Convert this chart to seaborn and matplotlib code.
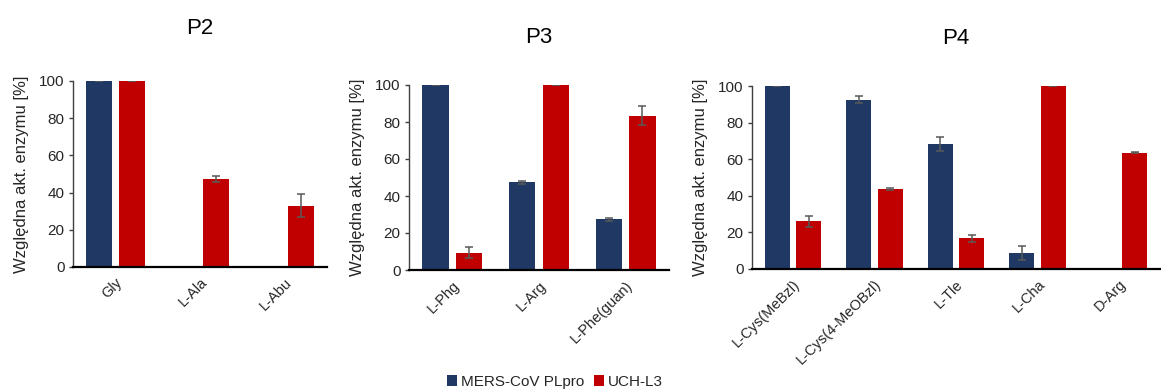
import numpy as np
import pandas as pd
import matplotlib
matplotlib.use("Agg")
import matplotlib.pyplot as plt
from matplotlib.patches import Patch
import seaborn as sns

# ---- data -------------------------------------------------------------
series_names = ["MERS-CoV PLpro", "UCH-L3"]
nan = np.nan

p2_labels = ["Gly", "L-Ala", "L-Abu"]
p2_mers = [100, 0, 0]
p2_mers_err = [0, nan, nan]
p2_uch = [100, 47.2, 33.0]
p2_uch_err = [0, 1.7, 6.0]

p3_labels = ["L-Phg", "L-Arg", "L-Phe(guan)"]
p3_mers = [100, 47.3, 27.3]
p3_mers_err = [0, 0.9, 1.0]
p3_uch = [9.4, 100, 83.4]
p3_uch_err = [3.0, 0, 5.0]

p4_labels = ["L-Cys(MeBzl)", "L-Cys(4-MeOBzl)", "L-Tle", "L-Cha", "D-Arg"]
p4_mers = [100, 92.6, 68.2, 8.9, 0]
p4_mers_err = [0, 1.8, 3.8, 3.8, nan]
p4_uch = [26.2, 43.7, 16.8, 100, 63.6]
p4_uch_err = [3.0, 0.7, 2.0, 0, 0.4]

titles = ["P2", "P3", "P4"]
y_label = "Względna akt. enzymu [%]"

# ---- style ------------------------------------------------------------
sns.set_theme(style="white")
plt.rcParams["font.family"] = ["Liberation Sans", "DejaVu Sans"]
navy = "#203864"
red = "#C00000"
palette = {series_names[0]: navy, series_names[1]: red}
text_col = "#262626"
err_col = "#595959"

W, H = 1161, 389
fig = plt.figure(figsize=(W / 100, H / 100), dpi=100)

# axes boxes in pixel units: left, right, top (y=100), bottom (y=0)
boxes = [(73, 327, 81, 267), (409, 669, 85, 270), (752, 1160, 86, 269)]
panels = [
    (p2_labels, p2_mers, p2_mers_err, p2_uch, p2_uch_err),
    (p3_labels, p3_mers, p3_mers_err, p3_uch, p3_uch_err),
    (p4_labels, p4_mers, p4_mers_err, p4_uch, p4_uch_err),
]

for (l, r, t, b), title, (cats, mers, mers_err, uch, uch_err) in zip(boxes, titles, panels):
    ax = fig.add_axes([l / W, (H - b) / H, (r - l) / W, (b - t) / H])
    df = pd.DataFrame({
        "substrate": cats * 2,
        "activity": list(mers) + list(uch),
        "enzyme": [series_names[0]] * len(cats) + [series_names[1]] * len(cats),
    })
    sns.barplot(data=df, x="substrate", y="activity", hue="enzyme",
                hue_order=series_names, palette=palette, order=cats,
                width=0.77, gap=0.21, errorbar=None, legend=False,
                saturation=1, linewidth=0, ax=ax)

    # error bars placed on the drawn bars
    for container, errs in zip(ax.containers, [mers_err, uch_err]):
        for bar, e in zip(container, errs):
            if np.isnan(e):
                continue
            xc = bar.get_x() + bar.get_width() / 2
            ax.errorbar(xc, bar.get_height(), yerr=e, color=err_col,
                        elinewidth=1.1, capsize=3, capthick=1.1, zorder=3)

    ax.set_xlim(-0.5, len(cats) - 0.5)
    ax.set_ylim(0, 100)
    ax.set_yticks([0, 20, 40, 60, 80, 100])
    ax.set_xlabel("")
    ax.set_ylabel(y_label, fontsize=12, color=text_col, labelpad=7)
    ax.set_title(title, fontsize=16, color="black", pad=34 if title == "P2" else 30)

    for s in ["top", "right"]:
        ax.spines[s].set_visible(False)
    ax.spines["bottom"].set_color("black")
    ax.spines["bottom"].set_linewidth(1.6)
    ax.spines["left"].set_color("#404040")
    ax.spines["left"].set_linewidth(1.0)
    ax.spines["bottom"].set_zorder(4)

    ax.tick_params(axis="y", left=True, length=3, width=1, color="#404040",
                   labelsize=11, labelcolor=text_col, pad=3)
    ax.tick_params(axis="x", bottom=False, length=0, pad=6)
    ax.set_xticks(range(len(cats)))
    ax.set_xticklabels(cats, rotation=45, ha="right", rotation_mode="anchor",
                       fontsize=10.5, color=text_col)

handles = [Patch(facecolor=palette[n], edgecolor="none") for n in series_names]
fig.legend(handles, series_names, loc="center", bbox_to_anchor=(555 / W, 1 - 382 / H),
           ncol=2, frameon=False, fontsize=11, handlelength=0.7, handleheight=0.7,
           handletextpad=0.25, columnspacing=0.6, labelcolor=text_col)

fig.savefig("out.png", dpi=100)
